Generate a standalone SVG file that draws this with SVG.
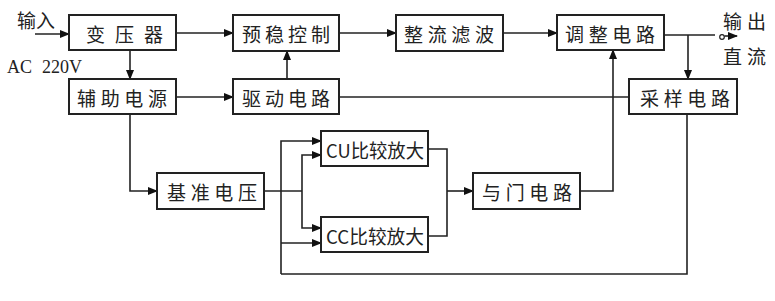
<svg xmlns="http://www.w3.org/2000/svg" width="775" height="301" viewBox="0 0 775 301">
<defs>
<marker id="ah" markerWidth="10" markerHeight="8" refX="9" refY="4" orient="auto" markerUnits="userSpaceOnUse">
<path d="M0,0 L10,4 L0,8 Z" fill="#111"/>
</marker>
</defs>
<style>
.box{fill:#fff;stroke:#222;stroke-width:2}
.lbl{font-family:"Noto Sans CJK SC","Noto Sans",sans-serif;font-size:19px;fill:#222;text-anchor:start;dominant-baseline:central}
.ln{fill:none;stroke:#222;stroke-width:1.6}
.arr{fill:none;stroke:#222;stroke-width:1.6;marker-end:url(#ah)}
.lat{font-family:"Liberation Serif",serif;font-size:18px;fill:#222}
</style>
<rect width="775" height="301" fill="#fff"/>
<g id="connectors">
<path class="arr" d="M35,34 H69"/>
<path class="arr" d="M176,33 H233"/>
<path class="arr" d="M339,33 H396"/>
<path class="arr" d="M503,33 H557"/>
<path class="ln" d="M664,35 H715"/>
<circle cx="722" cy="37" r="2.3" fill="#fff" stroke="#222" stroke-width="1.2"/>
<path class="arr" d="M724.5,36 H737"/>
<path class="arr" d="M130,50 V79"/>
<path class="arr" d="M176,97 H233"/>
<path class="arr" d="M287,79 V51"/>
<path class="ln" d="M339,97 H629"/>
<path class="arr" d="M688,35 V79"/>
<path class="arr" d="M130,114 V191 H157"/>
<path class="ln" d="M264,191 H302"/>
<path class="arr" d="M281,274 V141 H321"/>
<path class="arr" d="M281,243 H321"/>
<path class="arr" d="M302,191 V155 H321"/>
<path class="arr" d="M302,191 V228 H321"/>
<path class="ln" d="M428,149 H447 V236 H428"/>
<path class="arr" d="M447,191 H473"/>
<path class="arr" d="M580,191 H613 V50"/>
<path class="ln" d="M281,274 H687 V114"/>
</g>
<g id="n_in"><text class="lbl" x="17" y="19" textLength="38" lengthAdjust="spacing">输入</text></g>
<g id="n_ac"><text class="lat" x="7" y="73">AC <tspan x="42">220V</tspan></text></g>
<g id="n_out"><text class="lbl" x="723" y="20" textLength="43" lengthAdjust="spacing">输出</text><text class="lbl" x="723" y="55" textLength="43" lengthAdjust="spacing">直流</text></g>
<g id="n_trans"><rect class="box" x="69" y="15" width="107" height="35"/><text class="lbl" x="86" y="33" textLength="77" lengthAdjust="spacing">变压器</text></g>
<g id="n_pre"><rect class="box" x="233" y="15" width="106" height="36"/><text class="lbl" x="242" y="33" textLength="88" lengthAdjust="spacing">预稳控制</text></g>
<g id="n_rect"><rect class="box" x="396" y="15" width="107" height="36"/><text class="lbl" x="404" y="33" textLength="90" lengthAdjust="spacing">整流滤波</text></g>
<g id="n_adj"><rect class="box" x="557" y="15" width="107" height="35"/><text class="lbl" x="565" y="33" textLength="90" lengthAdjust="spacing">调整电路</text></g>
<g id="n_aux"><rect class="box" x="69" y="79" width="107" height="35"/><text class="lbl" x="77" y="97" textLength="90" lengthAdjust="spacing">辅助电源</text></g>
<g id="n_drv"><rect class="box" x="233" y="79" width="106" height="35"/><text class="lbl" x="242" y="97" textLength="88" lengthAdjust="spacing">驱动电路</text></g>
<g id="n_samp"><rect class="box" x="629" y="79" width="108" height="35"/><text class="lbl" x="640" y="97" textLength="90" lengthAdjust="spacing">采样电路</text></g>
<g id="n_ref"><rect class="box" x="157" y="173" width="107" height="36"/><text class="lbl" x="167" y="191" textLength="90" lengthAdjust="spacing">基准电压</text></g>
<g id="n_cu"><rect class="box" x="321" y="131" width="107" height="35"/><text class="lbl" x="326" y="149" textLength="98" lengthAdjust="spacingAndGlyphs">CU比较放大</text></g>
<g id="n_cc"><rect class="box" x="321" y="217" width="107" height="35"/><text class="lbl" x="326" y="235" textLength="98" lengthAdjust="spacingAndGlyphs">CC比较放大</text></g>
<g id="n_and"><rect class="box" x="473" y="173" width="107" height="36"/><text class="lbl" x="482" y="191" textLength="90" lengthAdjust="spacing">与门电路</text></g>
</svg>
